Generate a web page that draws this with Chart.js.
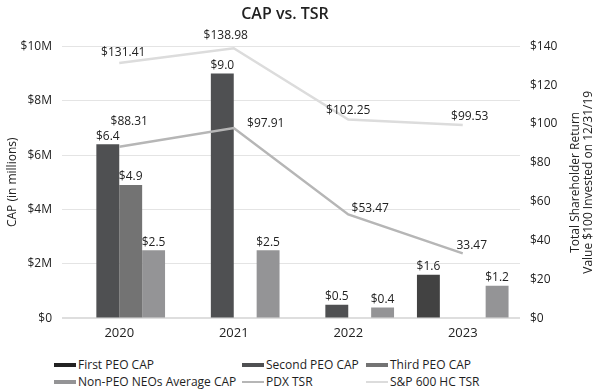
<!DOCTYPE html>
<html>
<head>
<meta charset="utf-8">
<script src="https://cdn.jsdelivr.net/npm/chart.js@4.4.0/dist/chart.umd.min.js"></script>
<style>
  html, body { margin: 0; padding: 0; background: #fff; }
  #wrap { position: relative; width: 595px; height: 390px; font-family: "Open Sans", sans-serif; }
  #chartBox { position: absolute; left: 0; top: 0; width: 595px; height: 350px; }
  #legend { position: absolute; left: 54px; top: 356px; display: grid;
            grid-template-columns: 188px 124px auto; font-size: 12px; color: #1e1e1e; }
  .item { display: flex; align-items: center; height: 17px; white-space: nowrap; }
  .swatch { width: 22px; margin-right: 2px; }
</style>
</head>
<body>
<div id="wrap">
  <div id="chartBox"><canvas id="capChart"></canvas></div>
  <div id="legend"></div>
</div>
<script>
// données
var years = ['2020', '2021', '2022', '2023'];
var firstPeoCap = [null, null, null, 1.6];
var secondPeoCap = [6.4, 9.0, 0.5, null];
var thirdPeoCap = [4.9, null, null, null];
var nonPeoCap = [2.5, 2.5, 0.4, 1.2];
var pdxTsr = [88.31, 97.91, 53.47, 33.47];
var spHcTsr = [131.41, 138.98, 102.25, 99.53];
var pdxLabels = ['$88.31', '$97.91', '$53.47', '33.47'];
var spHcLabels = ['$131.41', '$138.98', '$102.25', '$99.53'];
var rightTitle = ['Total Shareholder Return', 'Value $100 Invested on 12/31/19'];

var FONT = '"Open Sans", sans-serif';
var TEXT = '#222';

// labels des valeurs + titre de droite
var valueLabels = {
    id: 'valueLabels',
    afterDatasetsDraw: function(chart) {
        var ctx = chart.ctx;
        ctx.save();
        ctx.font = '12px ' + FONT;
        ctx.fillStyle = TEXT;
        ctx.textAlign = 'center';
        ctx.textBaseline = 'middle';
        chart.data.datasets.forEach(function(ds, i) {
            var meta = chart.getDatasetMeta(i);
            meta.data.forEach(function(el, j) {
                var v = ds.data[j];
                if (v === null || v === undefined) return;
                if (ds.type === 'line') {
                    var off = ds.labelOffsets[j];
                    ctx.fillText(ds.pointLabels[j], el.x + off[0], el.y + off[1]);
                } else {
                    ctx.fillText('$' + v.toFixed(1), el.x, el.y - 8);
                }
            });
        });
        ctx.restore();
    },
    afterDraw: function(chart) {
        var ctx = chart.ctx;
        var area = chart.chartArea;
        ctx.save();
        ctx.font = '12px ' + FONT;
        ctx.fillStyle = TEXT;
        ctx.textAlign = 'center';
        ctx.textBaseline = 'middle';
        ctx.translate(chart.width - 19, (area.top + area.bottom) / 2);
        ctx.rotate(-Math.PI / 2);
        ctx.fillText(rightTitle[0], 0, 0);
        ctx.fillText(rightTitle[1], 0, 13);
        ctx.restore();
    }
};

var ctx = document.getElementById('capChart').getContext('2d');
var capChart = new Chart(ctx, {
    type: 'bar',
    data: {
        labels: years,
        datasets: [
            { label: 'First PEO CAP', data: firstPeoCap, backgroundColor: '#424242', legendColor: '#222', order: 2, yAxisID: 'y' },
            { label: 'Second PEO CAP', data: secondPeoCap, backgroundColor: '#4f5052', order: 2, yAxisID: 'y' },
            { label: 'Third PEO CAP', data: thirdPeoCap, backgroundColor: '#737373', order: 2, yAxisID: 'y' },
            { label: 'Non-PEO NEOs Average CAP', data: nonPeoCap, backgroundColor: '#949496', order: 2, yAxisID: 'y' },
            { type: 'line', label: 'PDX TSR', data: pdxTsr, borderColor: '#b6b6b6', backgroundColor: '#b6b6b6',
              borderWidth: 2.5, pointRadius: 0, order: 1, yAxisID: 'y1',
              pointLabels: pdxLabels, labelOffsets: [[10, -25], [32, -4], [22, -6], [9, -8]] },
            { type: 'line', label: 'S&P 600 HC TSR', data: spHcTsr, borderColor: '#dcdcdc', backgroundColor: '#dcdcdc',
              borderWidth: 2.5, pointRadius: 0, order: 0, yAxisID: 'y1',
              pointLabels: spHcLabels, labelOffsets: [[4, -10], [-8, -13], [0, -9], [7, -8]] }
        ]
    },
    options: {
        responsive: true,
        maintainAspectRatio: false,
        animation: false,
        layout: { padding: { left: 0, right: 25, top: 0, bottom: 2 } },
        datasets: { bar: { barPercentage: 1, categoryPercentage: 0.8 } },
        plugins: {
            legend: { display: false },
            tooltip: { enabled: false },
            title: {
                display: true,
                text: 'CAP vs. TSR',
                color: TEXT,
                font: { family: FONT, size: 16, weight: '600' },
                padding: { top: 5, bottom: 22 }
            }
        },
        scales: {
            x: {
                grid: { display: false, drawTicks: false },
                border: { display: false },
                ticks: { color: TEXT, font: { family: FONT, size: 13 }, padding: 7 }
            },
            y: {
                position: 'left',
                min: 0,
                max: 10,
                border: { display: false },
                afterFit: function(scale) { scale.width = 62; },
                grid: {
                    color: function(c) { return c.tick && c.tick.value === 0 ? '#dedede' : '#e4e4e4'; },
                    lineWidth: function(c) { return c.tick && c.tick.value === 0 ? 2 : 1; },
                    drawTicks: false
                },
                ticks: {
                    stepSize: 2,
                    padding: 10,
                    color: TEXT,
                    font: { family: FONT, size: 12 },
                    callback: function(value) { return value === 0 ? '$0' : '$' + value + 'M'; }
                },
                title: {
                    display: true,
                    text: 'CAP (in millions)',
                    color: TEXT,
                    font: { family: FONT, size: 12 },
                    padding: { top: 5, bottom: 0 }
                }
            },
            y1: {
                position: 'right',
                min: 0,
                max: 140,
                border: { display: false },
                afterFit: function(scale) { scale.width = 50; },
                grid: { drawOnChartArea: false, drawTicks: false },
                ticks: {
                    stepSize: 20,
                    padding: 10,
                    color: TEXT,
                    font: { family: FONT, size: 12 },
                    callback: function(value) { return '$' + value; }
                }
            }
        }
    },
    plugins: [valueLabels]
});

// légende HTML
var legendEl = document.getElementById('legend');
capChart.data.datasets.forEach(function(ds) {
    var item = document.createElement('div');
    item.className = 'item';
    var sw = document.createElement('span');
    sw.className = 'swatch';
    sw.style.height = ds.type === 'line' ? '2px' : '4px';
    sw.style.background = ds.legendColor || (ds.type === 'line' ? ds.borderColor : ds.backgroundColor);
    item.appendChild(sw);
    item.appendChild(document.createTextNode(ds.label));
    legendEl.appendChild(item);
});
</script>
</body>
</html>
